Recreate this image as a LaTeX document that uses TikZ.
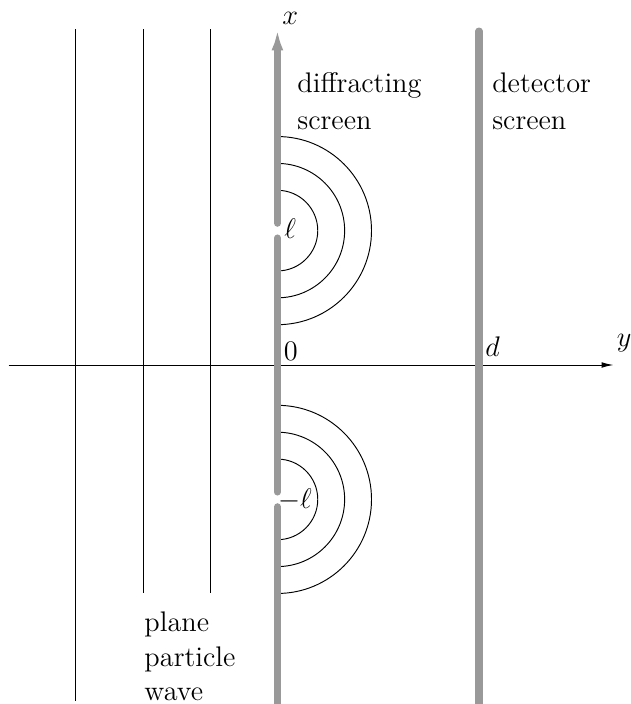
\documentclass[tikz,border=0pt]{standalone}
\usepackage{amsmath,amssymb}
\usetikzlibrary{arrows.meta}

\begin{document}
\begin{tikzpicture}[screen/.style={line width=3pt,black!40,line cap=round},
   lbl/.style={inner sep=0pt,font=\fontsize{12}{15.6}\selectfont},
   txt/.style={lbl,align=left,anchor=north west}]
   \useasboundingbox (-4.129,-5.045) rectangle (5.260,5.432);
   % incoming plane wave
   \draw (-3,5) -- (-3,-5);
   \draw (-2,5) -- (-2,-3.4);
   \draw (-1,5) -- (-1,-3.4);
   % y axis
   \coordinate (ystart) at (-4,0);
   \coordinate (ytip) at (5,0);
   \draw[-{Latex[length=5pt,width=2.4pt]}] (ystart) -- (ytip);
   % circular waves behind the slits
   \foreach \r in {0.6,1.0,1.4} {
     \draw (0,2)+(0,\r) arc (90:-90:\r);
     \draw (0,-2)+(0,\r) arc (90:-90:\r);
   }
   % diffracting screen with two slits
   \draw[screen] (0,-5.1) -- (0,-2.11);
   \draw[screen] (0,-1.89) -- (0,1.89);
   \draw[screen,-{Latex[length=9pt,width=5pt]}] (0,2.11) -- (0,5);
   % detector screen
   \draw[screen] (3,4.97) -- (3,-5.1);
   \node[lbl] (xlab) at (0.19,5.16) {$x$};
   \node[lbl] (ylab) at (5.16,0.33) {$y$};
   \node[lbl] (zero) at (0.2,0.2) {$0$};
   \node[lbl] (dlab) at (3.2,0.275) {$d$};
   \node[lbl] (slitup) at (0.19,2.03) {$\ell$};
   \node[lbl] (slitdn) at (0.26,-2.01) {$-\ell$};
   \node[txt] (diff) at (0.29,4.36) {diffracting\\screen};
   \node[txt] (det) at (3.19,4.36) {detector\\screen};
   \node[txt,font=\fontsize{12}{14.6}\selectfont] (wave) at (-1.986,-3.67) {plane\\particle\\wave};
\end{tikzpicture}
\end{document}
